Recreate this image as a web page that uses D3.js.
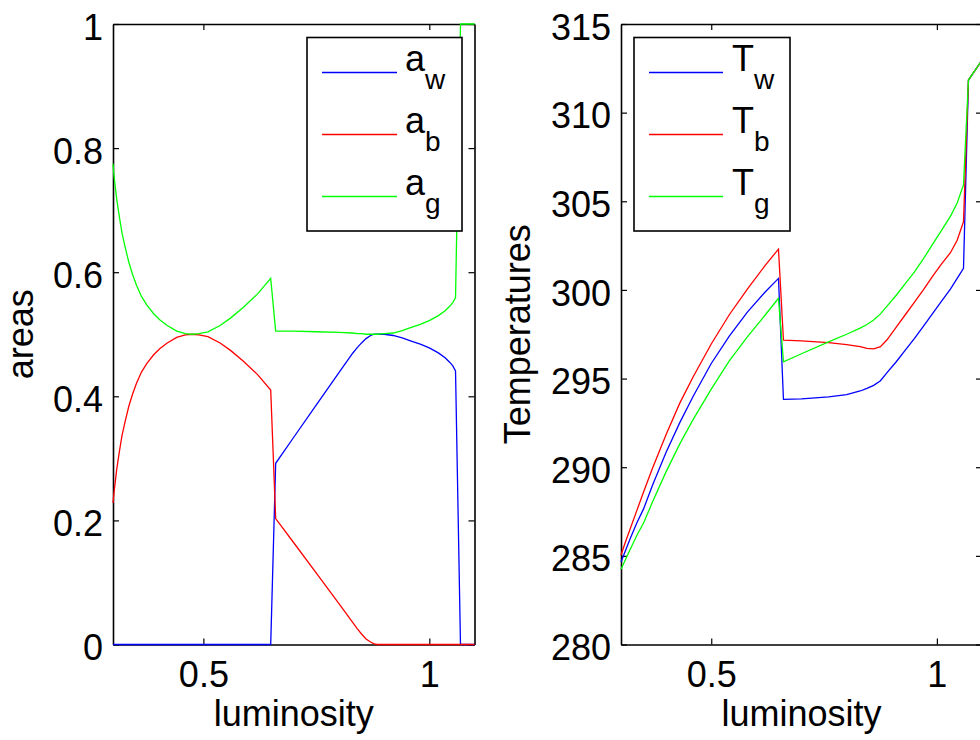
<!DOCTYPE html>
<html>
<head>
<meta charset="utf-8">
<script src="https://cdn.jsdelivr.net/npm/d3@7"></script>
<style>
  body { margin: 0; background: #fff; }
  svg text { font-family: "Liberation Sans", Arial, Helvetica, sans-serif; fill: #000; }
</style>
</head>
<body>
<div class="chart"></div>
<script>
// luminosity samples for the areas panel
const lumA = [0.300, 0.302, 0.305, 0.308, 0.311, 0.315, 0.320, 0.327, 0.335, 0.343, 0.352,
  0.363, 0.375, 0.390, 0.404, 0.420, 0.441, 0.460, 0.475, 0.490, 0.510, 0.537, 0.560,
  0.588, 0.620, 0.649,
  0.660, 0.700, 0.750, 0.800, 0.830, 0.840, 0.850, 0.860, 0.870, 0.878, 0.885,
  0.900, 0.920, 0.940, 0.960, 0.980, 1.000, 1.020, 1.035, 1.045, 1.052, 1.058,
  1.069, 1.100]
const aW = [0, 0, 0, 0, 0, 0, 0, 0, 0, 0, 0, 0, 0, 0, 0, 0, 0, 0, 0, 0, 0, 0, 0, 0, 0, 0,
  0.292, 0.334, 0.386, 0.438, 0.469, 0.478, 0.486, 0.493, 0.498, 0.500, 0.500,
  0.500, 0.498, 0.494, 0.489, 0.484, 0.478, 0.470, 0.462, 0.455, 0.449, 0.441,
  0, 0]
const aB = [0.228, 0.243, 0.262, 0.281, 0.296, 0.315, 0.337, 0.360, 0.384, 0.403, 0.421,
  0.439, 0.453, 0.467, 0.477, 0.486, 0.495, 0.499, 0.500, 0.499, 0.496, 0.486, 0.474,
  0.457, 0.435, 0.410,
  0.203, 0.164, 0.115, 0.066, 0.036, 0.026, 0.017, 0.009, 0.004, 0.001, 0,
  0, 0, 0, 0, 0, 0, 0, 0, 0, 0, 0,
  0, 0]
const aG = [0.775, 0.757, 0.738, 0.719, 0.704, 0.685, 0.663, 0.640, 0.616, 0.597, 0.579,
  0.561, 0.547, 0.533, 0.523, 0.514, 0.505, 0.501, 0.500, 0.501, 0.504, 0.514, 0.526,
  0.543, 0.565, 0.590,
  0.505, 0.505, 0.504, 0.503, 0.502, 0.501, 0.501, 0.500, 0.500, 0.500, 0.500,
  0.501, 0.502, 0.506, 0.511, 0.516, 0.522, 0.530, 0.538, 0.545, 0.551, 0.559,
  1.000, 1.000]

// luminosity samples for the temperature panel
const lumT = [0.300, 0.310, 0.320, 0.335, 0.350, 0.370, 0.400, 0.430, 0.460, 0.500, 0.540,
  0.580, 0.620, 0.649,
  0.660, 0.700, 0.760, 0.800, 0.830, 0.845, 0.860, 0.875, 0.890, 0.910, 0.930, 0.950,
  0.970, 0.990, 1.010, 1.030, 1.045, 1.059,
  1.070, 1.085, 1.100]
const tW = [284.65, 285.3, 285.95, 286.85, 287.65, 289.0, 290.85, 292.5, 294.0, 295.85, 297.4,
  298.75, 299.9, 300.65,
  293.83, 293.86, 293.97, 294.1, 294.3, 294.45, 294.62, 294.88, 295.35, 295.95, 296.6, 297.25,
  297.95, 298.65, 299.35, 300.05, 300.65, 301.22,
  311.84, 312.4, 312.95]
const tB = [285.05, 285.8, 286.5, 287.55, 288.6, 289.95, 291.85, 293.6, 295.1, 296.95, 298.6,
  300.05, 301.4, 302.3,
  297.17, 297.13, 297.03, 296.92, 296.8, 296.7, 296.68, 296.8, 297.2, 297.9, 298.6, 299.3,
  300.0, 300.75, 301.45, 302.1, 302.8, 303.85,
  311.84, 312.4, 312.95]
const tG = [284.25, 284.8, 285.35, 286.15, 286.85, 288.05, 289.75, 291.3, 292.7, 294.4, 296.0,
  297.35, 298.6, 299.53,
  295.95, 296.4, 297.07, 297.5, 297.85, 298.05, 298.3, 298.65, 299.1, 299.7, 300.35, 301.0,
  301.75, 302.55, 303.35, 304.15, 304.9, 305.92,
  311.84, 312.4, 312.95]

// ticks
const lumTicks = [0.5, 1]
const lumTickLabels = ["0.5", "1"]
const areaTicks = [0, 0.2, 0.4, 0.6, 0.8, 1]
const areaTickLabels = ["0", "0.2", "0.4", "0.6", "0.8", "1"]
const tempTicks = [280, 285, 290, 295, 300, 305, 310, 315]
const tempTickLabels = ["280", "285", "290", "295", "300", "305", "310", "315"]

const subs = ["w", "b", "g"]
const colors = ["#0000ff", "#ff0000", "#00ff00"]

const width = 980
const height = 740
const plotTop = 24
const plotBottom = 644.5

const svg = d3.select('.chart')
  .append('svg')
  .attr('width', width)
  .attr('height', height)

const panels = [
  {
    lum: lumA, series: [aW, aB, aG], letter: 'a', ylabel: 'areas',
    x: d3.scaleLinear().domain([0.3, 1.1]).range([113, 474.5]),
    y: d3.scaleLinear().domain([0, 1]).range([plotBottom, plotTop]),
    yTicks: areaTicks, yLabels: areaTickLabels,
    ylabelX: 33,
    legend: { x: 307, w: 155, lineX: 15, lineW: 75, textX: 98 }
  },
  {
    lum: lumT, series: [tW, tB, tG], letter: 'T', ylabel: 'Temperatures',
    x: d3.scaleLinear().domain([0.3, 1.1]).range([621, 982]),
    y: d3.scaleLinear().domain([280, 315]).range([plotBottom, plotTop]),
    yTicks: tempTicks, yLabels: tempTickLabels,
    ylabelX: 530,
    legend: { x: 634, w: 156, lineX: 15, lineW: 74, textX: 98 }
  }
]

const styleAxis = g => {
  g.attr('font-size', 36)
    .attr('font-family', null)
  g.selectAll('.domain').attr('stroke', '#000').attr('stroke-width', 1.6)
  g.selectAll('.tick line').attr('stroke', '#000').attr('stroke-width', 1.2)
}

panels.forEach(p => {
  const [x0, x1] = p.x.range()
  const g = svg.append('g')

  // bottom axis with labels, ticks pointing inward
  g.append('g')
    .attr('transform', `translate(0,${plotBottom})`)
    .call(d3.axisBottom(p.x).tickValues(lumTicks)
      .tickFormat((d, i) => lumTickLabels[i])
      .tickSizeInner(-6).tickSizeOuter(0).tickPadding(17))
    .call(styleAxis)

  // top axis, ticks only
  g.append('g')
    .attr('transform', `translate(0,${plotTop})`)
    .call(d3.axisTop(p.x).tickValues(lumTicks).tickFormat('')
      .tickSizeInner(-6).tickSizeOuter(0))
    .call(styleAxis)

  // left axis with labels
  g.append('g')
    .attr('transform', `translate(${x0},0)`)
    .call(d3.axisLeft(p.y).tickValues(p.yTicks)
      .tickFormat((d, i) => p.yLabels[i])
      .tickSizeInner(-6).tickSizeOuter(0).tickPadding(10))
    .call(styleAxis)
    .selectAll('text').attr('dy', '0.42em')

  // right axis, ticks only
  g.append('g')
    .attr('transform', `translate(${x1},0)`)
    .call(d3.axisRight(p.y).tickValues(p.yTicks).tickFormat('')
      .tickSizeInner(-6).tickSizeOuter(0))
    .call(styleAxis)

  // axis titles
  g.append('text')
    .text('luminosity')
    .attr('x', (x0 + x1) / 2)
    .attr('y', 726)
    .attr('text-anchor', 'middle')
    .attr('font-size', 36)

  g.append('text')
    .text(p.ylabel)
    .attr('transform', `translate(${p.ylabelX},${(plotTop + plotBottom) / 2}) rotate(-90)`)
    .attr('text-anchor', 'middle')
    .attr('font-size', 36)

  // lines, drawn over the axes box
  const line = d3.line()
    .x((d, i) => p.x(p.lum[i]))
    .y(d => p.y(d))

  p.series.forEach((s, i) => {
    g.append('path')
      .datum(s)
      .attr('d', line)
      .attr('fill', 'none')
      .attr('stroke', colors[i])
      .attr('stroke-width', 1.3)
  })

  // legend
  const L = p.legend
  const lg = g.append('g').attr('transform', `translate(${L.x},37.5)`)
  lg.append('rect')
    .attr('width', L.w)
    .attr('height', 193.5)
    .attr('fill', '#fff')
    .attr('stroke', '#000')
    .attr('stroke-width', 1.6)

  subs.forEach((sub, i) => {
    const yy = 35 + i * 62
    lg.append('line')
      .attr('x1', L.lineX).attr('x2', L.lineX + L.lineW)
      .attr('y1', yy).attr('y2', yy)
      .attr('stroke', colors[i])
      .attr('stroke-width', 1.3)
    const t = lg.append('text')
      .attr('x', L.textX)
      .attr('y', yy - 2)
      .attr('font-size', 36)
    t.append('tspan').text(p.letter)
    t.append('tspan').text(sub).attr('font-size', 28).attr('dy', 18)
  })
})
</script>
</body>
</html>
